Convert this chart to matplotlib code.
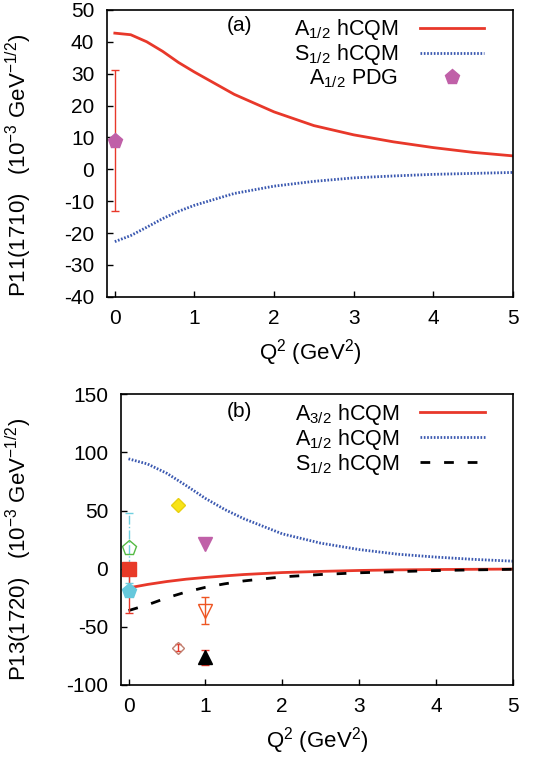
import numpy as np
import matplotlib
matplotlib.use("Agg")
import matplotlib.pyplot as plt

plt.rcParams['font.family'] = ['Liberation Sans', 'DejaVu Sans']
plt.rcParams['mathtext.fontset'] = 'custom'
plt.rcParams['mathtext.rm'] = 'Liberation Sans'
plt.rcParams['mathtext.it'] = 'Liberation Sans'
plt.rcParams['axes.unicode_minus'] = False

# ── panel (a): P11(1710) ─────────────────────────────────────────────────────
q2_a = [0, 0.2, 0.4, 0.6, 0.8, 1.0, 1.5, 2.0, 2.5, 3.0, 3.5, 4.0, 4.5, 5.0]
a12_a = [42.7, 42.2, 40.0, 37.0, 33.5, 30.5, 23.5, 18.0, 13.7, 10.8, 8.6, 6.8, 5.3, 4.2]
s12_a = [-22.7, -20.8, -18.2, -15.5, -13.2, -11.3, -7.6, -5.3, -3.8, -2.7, -2.1, -1.6, -1.3, -1.0]
pdg_q2 = [0.0]
pdg_val = [9.0]
pdg_err = [22.0]

# ── panel (b): P13(1720) ─────────────────────────────────────────────────────
q2_b = [0, 0.25, 0.5, 0.75, 1.0, 1.25, 1.5, 2.0, 2.5, 3.0, 3.5, 4.0, 4.5, 5.0]
a32_b = [-16.5, -13.5, -11.0, -9.0, -7.5, -6.2, -5.0, -3.3, -2.3, -1.5, -1.0, -0.7, -0.5, -0.3]
a12_b = [94.5, 90.0, 82.0, 71.5, 60.5, 51.0, 43.0, 30.0, 22.0, 16.5, 12.5, 10.0, 8.0, 6.5]
s12_b = [-36.0, -31.0, -25.0, -20.0, -16.0, -13.0, -10.5, -7.0, -5.0, -3.5, -2.5, -1.6, -1.0, -0.5]

# experimental points: (Q2, value, error)
green_pent = (0.0, 18.0, 30.0)
red_square = (0.0, 0.0, 0.0)
cyan_pent = (0.0, -19.0, 19.5)
yellow_diam = (0.65, 55.0, 0.0)
magenta_tri = (1.0, 21.0, 0.0)
orange_tri = (1.0, -36.0, 11.5)
brown_diam = (0.65, -68.0, 3.0)
black_tri = (1.0, -76.0, 6.5)

RED = '#e8382a'
BLUE = '#3a58b0'
FS = 15

fig = plt.figure(figsize=(5.37, 7.59), dpi=100)
ax1 = fig.add_axes([0.199, 0.609, 0.756, 0.378])
ax2 = fig.add_axes([0.225, 0.0975, 0.730, 0.383])

for ax in (ax1, ax2):
    ax.tick_params(direction='in', labelsize=FS, length=4, width=1,
                   top=False, right=False, pad=9)
    for s in ax.spines.values():
        s.set_linewidth(1.2)
    ax.set_xlim(-0.1, 5)
    ax.set_xticks([0, 1, 2, 3, 4, 5])
    ax.set_xlabel('Q$^2$ (GeV$^2$)', fontsize=FS + 1, labelpad=6)

leg_kw = dict(loc='upper right', frameon=False, markerfirst=False, fontsize=15.5,
              handlelength=3.0, labelspacing=0.0, handletextpad=1.0,
              borderpad=0, borderaxespad=0)

# panel (a)
ax1.plot(q2_a, a12_a, '-', color=RED, lw=2, label='A$_{1/2}$ hCQM')
ax1.plot(q2_a, s12_a, color=BLUE, lw=2, linestyle=(0, (0.6, 0.6)), label='S$_{1/2}$ hCQM')
ax1.errorbar(pdg_q2, pdg_val, yerr=pdg_err, fmt='none', ecolor=RED, elinewidth=1,
             capsize=3, capthick=1)
ax1.plot(pdg_q2, pdg_val, 'p', color='#c060a8', ms=11, mec='#c060a8',
         label='A$_{1/2}$ PDG')
ax1.set_ylim(-40, 50)
ax1.set_yticks(np.arange(-40, 51, 10))
ax1.set_ylabel('P11(1710)   (10$^{-3}$ GeV$^{-1/2}$)', fontsize=FS + 1)
ax1.yaxis.set_label_coords(-0.18, 0.46)
ax1.text(1.57, 45, '(a)', fontsize=FS, ha='center', va='center')
ax1.legend(bbox_to_anchor=(0.93, 0.975), **leg_kw)

# panel (b)
ax2.plot(q2_b, a32_b, '-', color=RED, lw=2, label='A$_{3/2}$ hCQM')
ax2.plot(q2_b, a12_b, color=BLUE, lw=2, linestyle=(0, (0.6, 0.6)), label='A$_{1/2}$ hCQM')
ax2.plot(q2_b, s12_b, color='black', lw=2, linestyle=(0, (3.5, 5)), label='S$_{1/2}$ hCQM')

q, v, e = green_pent
eb = ax2.errorbar([q], [v], yerr=[e], fmt='none', ecolor='#70d0e0', elinewidth=1, capsize=3)
eb[-1][0].set_linestyle('-.')
ax2.plot([q], [v], 'p', ms=11, mfc='none', mec='#55bb44', mew=1)
q, v, e = cyan_pent
ax2.errorbar([q], [v], yerr=[e], fmt='none', ecolor=RED, elinewidth=1, capsize=3)
q, v, e = red_square
ax2.plot([q], [v], 's', ms=10, color='#e83a28')
q, v, e = cyan_pent
ax2.plot([q], [v], 'p', ms=11, color='#66c8dc')
q, v, e = yellow_diam
ax2.plot([q], [v], 'D', ms=7.5, color='#f8e418', mec='#e8d010')
q, v, e = magenta_tri
ax2.plot([q], [v], 'v', ms=9.5, color='#c060a8')
q, v, e = orange_tri
ax2.errorbar([q], [v], yerr=[e], fmt='none', ecolor='#ee5522', elinewidth=1, capsize=3)
ax2.plot([q], [v], 'v', ms=9.5, mfc='none', mec='#ee5522', mew=1)
q, v, e = brown_diam
ax2.errorbar([q], [v], yerr=[e], fmt='none', ecolor=RED, elinewidth=1, capsize=2)
ax2.plot([q], [v], 'D', ms=6.5, mfc='none', mec='#c08070', mew=1)
q, v, e = black_tri
ax2.errorbar([q], [v], yerr=[e], fmt='none', ecolor=RED, elinewidth=1, capsize=3)
ax2.plot([q], [v], '^', ms=9.5, color='black')

ax2.set_ylim(-100, 150)
ax2.set_yticks(np.arange(-100, 151, 50))
ax2.set_ylabel('P13(1720)   (10$^{-3}$ GeV$^{-1/2}$)', fontsize=FS + 1)
ax2.yaxis.set_label_coords(-0.222, 0.465)
ax2.text(1.44, 135, '(b)', fontsize=FS, ha='center', va='center')
ax2.legend(bbox_to_anchor=(0.929, 0.975), **leg_kw)

fig.savefig('out.png', dpi=100)
